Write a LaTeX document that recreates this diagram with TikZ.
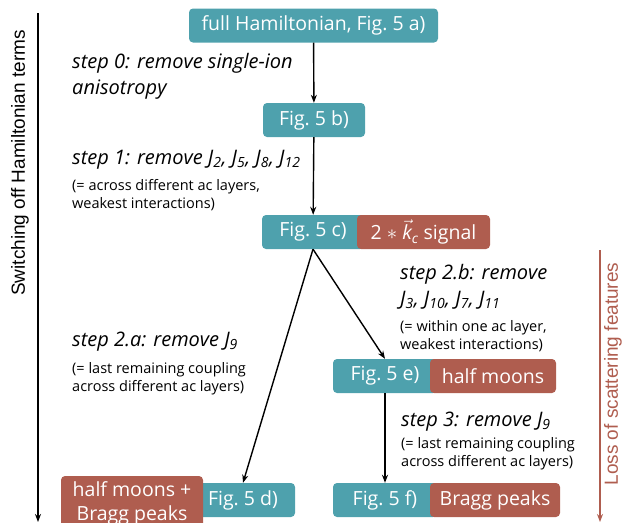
\documentclass[tikz,border=0pt]{standalone}
\usepackage{fontspec}
\setmainfont{Open Sans}
\newfontfamily\sidefont{Liberation Sans}
\usepackage{amsmath}
\usetikzlibrary{arrows.meta}

\definecolor{figteal}{RGB}{78,161,173}
\definecolor{featbrown}{RGB}{175,93,79}

\tikzset{
  figbox/.style={fill=figteal, rounded corners=4pt, text=white, inner sep=0pt,
    minimum height=34pt, font=\fontsize{19.5}{22}\selectfont},
  featbox/.style={fill=featbrown, rounded corners=4pt, text=white, inner sep=0pt,
    minimum height=34pt, font=\fontsize{19.5}{22}\selectfont},
  steptext/.style={anchor=north west, align=left, inner sep=0pt,
    font=\itshape\fontsize{20}{26}\selectfont},
  notetext/.style={anchor=north west, align=left, inner sep=0pt,
    font=\fontsize{14.5}{18}\selectfont},
  sidetext/.style={rotate=90, font=\sidefont\fontsize{19}{21}\selectfont},
  flow/.style={-{Stealth[length=8pt,width=6pt]}, line width=1.4pt}
}
\newcommand{\Jn}[1]{J\textsubscript{#1}}

\begin{document}
\begin{tikzpicture}[x=1pt,y=-1pt]
\useasboundingbox (0,0) rectangle (633,523);

% axes
\coordinate (axtop) at (38,13);
\coordinate (axbot) at (38,522);
\draw[flow] (axtop) -- (axbot);
\node[sidetext] (axlabel) at (20,163) {Switching off Hamiltonian terms};

\coordinate (losstop) at (600,250);
\coordinate (lossbot) at (600,522);
\draw[flow, featbrown] (losstop) -- (lossbot);
\node[sidetext, text=featbrown] (losslabel) at (613,374) {Loss of scattering features};

% boxes
\node[figbox, minimum width=249pt] (full) at (313.5,25.5) {full Hamiltonian, Fig.~5 a)};
\node[figbox, minimum width=102pt] (figb) at (314,120) {Fig.~5 b)};

\node[figbox, minimum width=102pt] (figc) at (313,232) {Fig.~5 c)};
\node[featbox, minimum width=133pt] (featc) at (423.5,232)
  {2 $\ast$ $\vec{\text{\itshape k}}_{\text{\itshape c}}$ signal};

\node[figbox, minimum width=104pt] (fige) at (385,376) {Fig.~5 e)};
\node[featbox, minimum width=126pt] (feate) at (493,376) {half moons};

\node[figbox, minimum width=104pt] (figf) at (385,500) {Fig.~5 f)};
\node[featbox, minimum width=130pt] (featf) at (495,500) {Bragg peaks};

\node[figbox, minimum width=104pt] (figd) at (243,500) {Fig.~5 d)};
\node[featbox, minimum width=142pt, minimum height=54pt, align=center,
  font=\fontsize{19.5}{24}\selectfont] (featd) at (132,503) {half moons +\\Bragg peaks};

% flow arrows
\draw[flow] (full) -- (figb);
\draw[flow] (figb) -- (figc);
\draw[flow] (figc.south) -- (figd.north);
\draw[flow] (figc.south) -- (fige.north);
\draw[flow] (fige) -- (figf);

% step labels
\node[steptext] (step0) at (72,53) {step 0: remove single-ion\\anisotropy};
\node[steptext] (step1) at (72,150) {step 1: remove \Jn{2}, \Jn{5}, \Jn{8}, \Jn{12}};
\node[notetext] (note1) at (72,179) {(= across different ac layers,\\weakest interactions)};

\node[steptext] (step2b) at (400,264) {step 2.b: remove\\\Jn{3}, \Jn{10}, \Jn{7}, \Jn{11}};
\node[notetext] (note2b) at (400,320) {(= within one ac layer,\\weakest interactions)};

\node[steptext] (step2a) at (72,332) {step 2.a: remove \Jn{9}};
\node[notetext] (note2a) at (72,362) {(= last remaining coupling\\across different ac layers)};

\node[steptext] (step3) at (401,412) {step 3: remove \Jn{9}};
\node[notetext] (note3) at (401,437) {(= last remaining coupling\\across different ac layers)};

\end{tikzpicture}
\end{document}
